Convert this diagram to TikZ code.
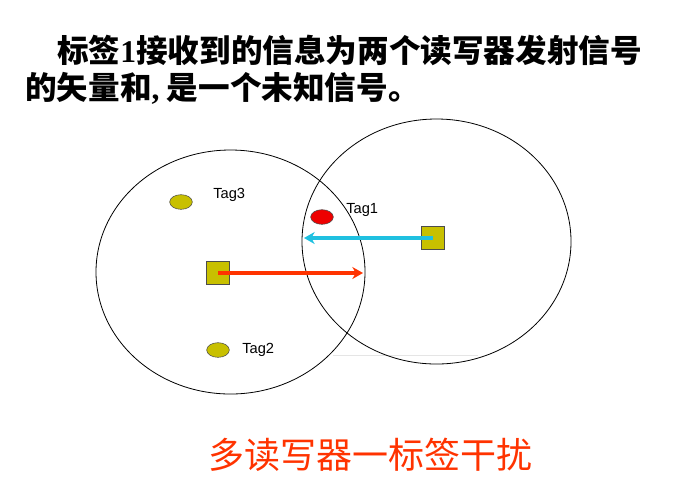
\documentclass[tikz,border=0pt]{standalone}
\usepackage{fontspec}
\setmainfont{Liberation Sans}
\newfontfamily\cjk{Noto Sans CJK SC}
\newfontfamily\latin{Liberation Serif}
\usetikzlibrary{arrows.meta,shapes.geometric}
\definecolor{tagyellow}{RGB}{200,192,0}
\definecolor{tagred}{RGB}{238,0,0}
\definecolor{sigblue}{RGB}{32,192,224}
\definecolor{sigred}{RGB}{255,51,0}

\begin{document}
\begin{tikzpicture}[x=0.75pt,y=-0.75pt,
  reader/.style={draw=black!70,fill=tagyellow,minimum size=17pt,inner sep=0pt},
  tag/.style={ellipse,draw=black!70,fill=#1,minimum width=17pt,minimum height=11pt,inner sep=0pt},
  taglabel/.style={anchor=west,inner sep=0pt,font=\fontsize{11}{13}\selectfont},
  signal/.style={line width=2.4pt,draw=#1,-{Stealth[length=8pt,width=9pt,inset=2.5pt]}}]
  \useasboundingbox (0,0) rectangle (680,494);
  % reading ranges
  \draw[black!10] (333,355) -- (478,355);
  \draw[line width=0.6pt] (230.5,272) ellipse (134.5 and 122);
  \draw[line width=0.6pt] (436.5,241.5) ellipse (134.5 and 122.5);
  % readers and tags
  \node[reader] (rdrA) at (218,273) {};
  \node[reader] (rdrB) at (433,238) {};
  \node[tag=tagyellow] (tag3) at (181,202) {};
  \node[tag=tagred] (tag1) at (322,217) {};
  \node[tag=tagyellow] (tag2) at (218,350) {};
  \node[taglabel] (lbl3) at (213,195) {Tag3};
  \node[taglabel] (lbl1) at (346,210) {Tag1};
  \node[taglabel] (lbl2) at (242,350) {Tag2};
  % signals
  \coordinate (hitB) at (304,238);
  \coordinate (hitA) at (363,273);
  \draw[signal=sigblue] (rdrB.center) -- (hitB);
  \draw[signal=sigred] (rdrA.center) -- (hitA);
  % texts
  \node[anchor=west,inner sep=0pt,font=\cjk\bfseries\fontsize{23.7}{28}\selectfont] (title1) at (57,50)
    {标签{\latin\bfseries 1}接收到的信息为两个读写器发射信号};
  \node[anchor=west,inner sep=0pt,font=\cjk\bfseries\fontsize{23.7}{28}\selectfont] (title2) at (25,88)
    {的矢量和{\latin\bfseries ,} 是一个未知信号。};
  \node[inner sep=0pt,text=sigred,font=\cjk\fontsize{27}{32}\selectfont] (caption) at (370,455)
    {多读写器一标签干扰};
\end{tikzpicture}
\end{document}
